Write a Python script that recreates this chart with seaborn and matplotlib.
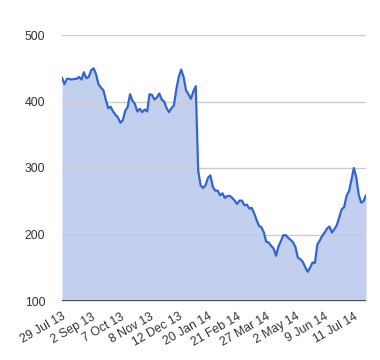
import matplotlib
matplotlib.use("Agg")
import matplotlib.pyplot as plt
import seaborn as sns
import numpy as np
import pandas as pd

# Values sampled along the chart (one every ~2 trading days)
values = [
    436, 426, 434, 434, 433, 434, 434, 437, 433, 444,
    435, 437, 447, 450, 441, 426, 421, 417, 403, 390,
    392, 385, 380, 376, 368, 372, 386, 392, 411, 401,
    396, 385, 389, 384, 388, 385, 411, 410, 403, 406,
    412, 403, 400, 390, 384, 390, 394, 418, 437, 448,
    437, 417, 411, 404, 415, 423, 296, 274, 270, 274,
    285, 289, 272, 266, 266, 259, 262, 255, 258, 258,
    255, 251, 246, 251, 251, 244, 245, 239, 240, 232,
    222, 213, 211, 203, 189, 188, 183, 179, 168, 182,
    190, 199, 199, 195, 192, 188, 181, 165, 163, 159,
    151, 144, 150, 158, 157, 185, 191, 198, 203, 209,
    212, 203, 208, 214, 226, 238, 241, 258, 265, 282,
    300, 286, 260, 248, 250, 259,
]
tick_labels = ["29 Jul 13", "2 Sep 13", "7 Oct 13", "8 Nov 13", "12 Dec 13",
               "20 Jan 14", "21 Feb 14", "27 Mar 14", "2 May 14", "9 Jun 14",
               "11 Jul 14"]
y_ticks = [100, 200, 300, 400, 500]

sns.set_theme(style="white")
plt.rcParams['font.family'] = ['Liberation Sans', 'DejaVu Sans']

df = pd.DataFrame({"idx": np.arange(len(values)), "value": values})

W, H = 380, 360
fig = plt.figure(figsize=(W / 100, H / 100), dpi=100)
ax = fig.add_axes([62 / W, 1 - 301 / H, (366 - 62) / W, (301 - 35) / H])

line_color = "#3366CC"
ax.fill_between(df["idx"], 100, df["value"], color="#C2CFEF", linewidth=0, zorder=1)
sns.lineplot(data=df, x="idx", y="value", ax=ax, color=line_color, linewidth=1.6, zorder=3)

ax.set_xlim(0, len(values) - 1)
ax.set_ylim(100, 500)
ax.set_yticks(y_ticks)
ax.set_yticklabels([str(v) for v in y_ticks])
for v in y_ticks[1:]:
    ax.axhline(v, color="#CCCCCC", linewidth=1, zorder=2)
ax.axhline(100, color="#333333", linewidth=1.2, zorder=4)

step = 12
ax.set_xticks([i * step for i in range(len(tick_labels))])
ax.set_xticklabels(tick_labels, rotation=30, ha="right", rotation_mode="anchor")

ax.tick_params(axis="both", length=0, colors="#333333", labelsize=8.8)
ax.tick_params(axis="y", pad=12)
ax.tick_params(axis="x", pad=7)
for s in ax.spines.values():
    s.set_visible(False)
ax.set_xlabel("")
ax.set_ylabel("")
ax.grid(False)

fig.savefig("out.png", dpi=100)
